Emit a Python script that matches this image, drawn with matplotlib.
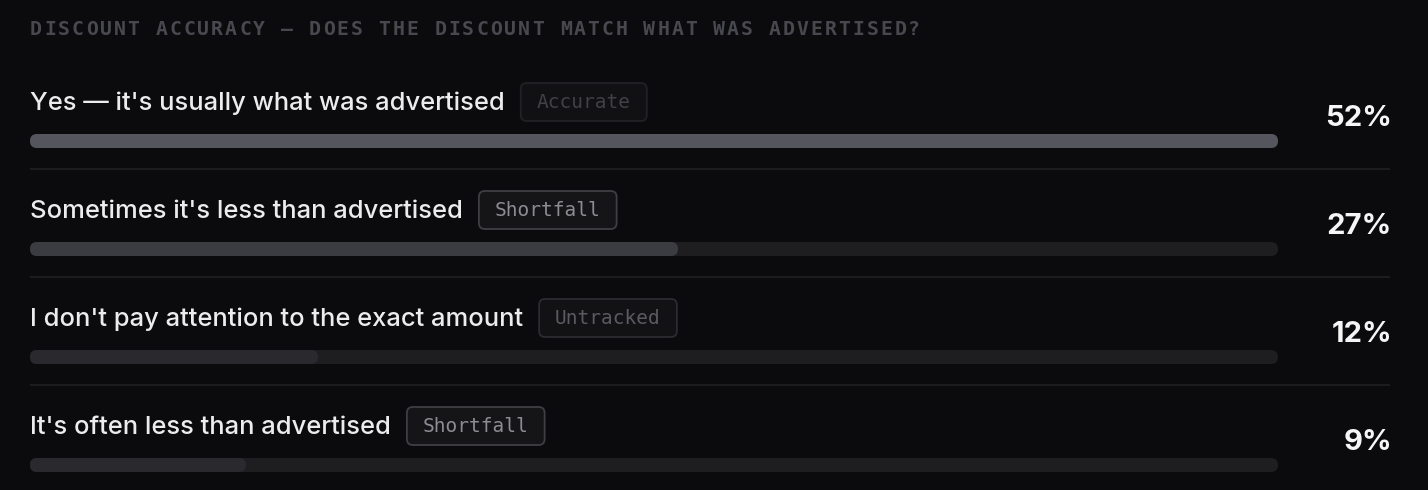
import matplotlib
matplotlib.use("Agg")
import matplotlib.pyplot as plt
from matplotlib.patches import FancyBboxPatch

# data
title = "DISCOUNT ACCURACY — DOES THE DISCOUNT MATCH WHAT WAS ADVERTISED?"
answers = [
    "Yes — it's usually what was advertised",
    "Sometimes it's less than advertised",
    "I don't pay attention to the exact amount",
    "It's often less than advertised",
]
percents = [52, 27, 12, 9]
tags = ["Accurate", "Shortfall", "Untracked", "Shortfall"]

# look
W, H = 1428, 490
BG = "#0b0b0d"
SANS = ["Inter", "DejaVu Sans"]
MONO = ["DejaVu Sans Mono"]
FILLS = ["#55565d", "#3b3c41", "#2a2a2e", "#2a2a2e"]
TRACK = "#1e1e21"
TAG_STYLE = {
    "Accurate": dict(fg="#404046", edge="#222226", face="#111114"),
    "Shortfall": dict(fg="#8c8c93", edge="#3e3e44", face="#151518"),
    "Untracked": dict(fg="#5a5a61", edge="#2b2b30", face="#121215"),
}

LEFT, TRACK_RIGHT, RIGHT = 30, 1278, 1390
ROW_STEP = 108
BAR_H = 14


def add_bar_row(fig, i, value, vmax, color):
    bar_top = 134 + ROW_STEP * i
    ax = fig.add_axes([LEFT / W, (H - bar_top - BAR_H) / H,
                       (TRACK_RIGHT - LEFT) / W, BAR_H / H])
    ax.set_xlim(0, vmax)
    ax.set_ylim(0, 1)
    ax.axis("off")
    px_per_x = (TRACK_RIGHT - LEFT) / vmax
    aspect = px_per_x / BAR_H
    r = (BAR_H / 2) / px_per_x
    for width, c in [(vmax, TRACK), (value, color)]:
        ax.add_patch(FancyBboxPatch(
            (0, 0), width, 1,
            boxstyle=f"round,pad=0,rounding_size={r}",
            mutation_aspect=aspect, fc=c, ec="none", lw=0))


fig = plt.figure(figsize=(W / 100, H / 100), dpi=100, facecolor=BG)
ax = fig.add_axes([0, 0, 1, 1])
ax.set_xlim(0, W)
ax.set_ylim(H, 0)
ax.axis("off")
ax.set_facecolor(BG)

# title with letter spacing
adv = 13.94
for k, ch in enumerate(title):
    ax.text(LEFT + k * adv, 29.5, ch, family=MONO, fontsize=14.2,
            fontweight="bold", color="#48484f", va="center", ha="left")

renderer = fig.canvas.get_renderer()
vmax = max(percents)

for i, (label, pct, tag) in enumerate(zip(answers, percents, tags)):
    y_label = 102 + ROW_STEP * i
    t = ax.text(LEFT, y_label + 1, label, family=SANS, fontsize=18.4,
                fontweight="medium", color="#ececee", va="center", ha="left")
    bb = t.get_window_extent(renderer)
    x_tag = bb.x1 + 16

    st = TAG_STYLE[tag]
    tt = ax.text(x_tag + 16, y_label, tag, family=MONO, fontsize=14,
                 fontweight="medium", color=st["fg"], va="center",
                 ha="left", zorder=3)
    tb = tt.get_window_extent(renderer)
    ax.add_patch(FancyBboxPatch(
        (x_tag, y_label - 19), tb.width + 32, 38,
        boxstyle="round,pad=0,rounding_size=6",
        fc=st["face"], ec=st["edge"], lw=1.3, zorder=2))

    ax.text(RIGHT + 2, 118 + ROW_STEP * i, f"{pct}%", family=SANS,
            fontsize=21, fontweight="bold", color="#f5f5f6",
            va="center", ha="right")

    if i < len(answers) - 1:
        ax.plot([LEFT, RIGHT], [169 + ROW_STEP * i] * 2, color="#1c1c1f",
                lw=1.5, solid_capstyle="butt")

    add_bar_row(fig, i, pct, vmax, FILLS[i])

fig.savefig("out.png", dpi=100, facecolor=BG)
